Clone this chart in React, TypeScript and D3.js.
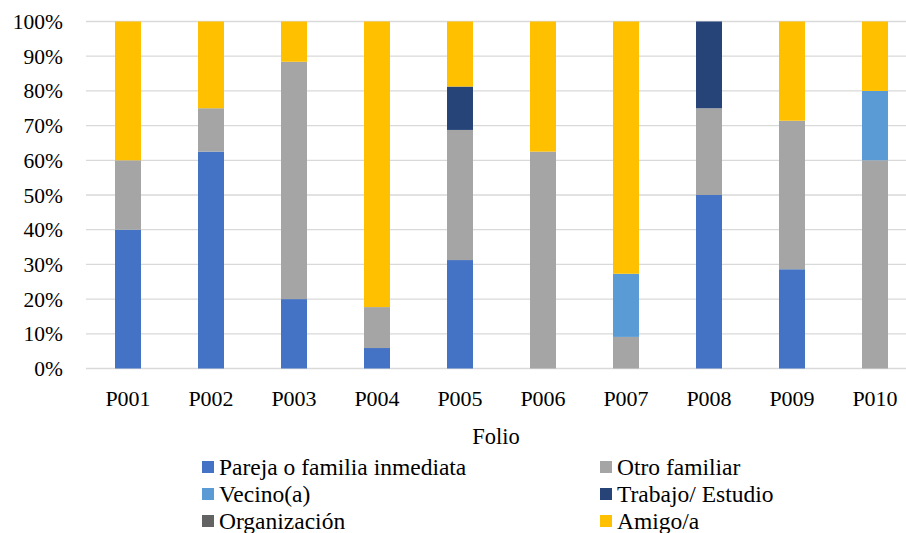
import React, { useEffect, useState } from 'react';
import * as d3 from 'd3';

const categories = ['P001', 'P002', 'P003', 'P004', 'P005', 'P006', 'P007', 'P008', 'P009', 'P010'];
const seriesNames = ['Pareja o familia inmediata', 'Otro familiar', 'Vecino(a)', 'Trabajo/ Estudio', 'Organización', 'Amigo/a'];
const pareja = [40, 62.5, 20, 5.9, 31.25, 0, 0, 50, 28.6, 0];
const otroFamiliar = [20, 12.5, 68.4, 11.8, 37.5, 62.5, 9.1, 25, 42.8, 60];
const vecino = [0, 0, 0, 0, 0, 0, 18.2, 0, 0, 20];
const trabajo = [0, 0, 0, 0, 12.5, 0, 0, 25, 0, 0];
const organizacion = [0, 0, 0, 0, 0, 0, 0, 0, 0, 0];
const amigo = [40, 25, 11.6, 82.3, 18.75, 37.5, 72.7, 0, 28.6, 20];
const yTicks = [0, 0.1, 0.2, 0.3, 0.4, 0.5, 0.6, 0.7, 0.8, 0.9, 1];
const colors = ['#4472C4', '#A5A5A5', '#5B9BD5', '#264478', '#636363', '#FFC000'];

const W = 906;
const H = 533;
const FONT = 'Liberation Serif';

export default function App() {
  const [, setTick] = useState(0);
  useEffect(() => {
    const f: any = (document as any).fonts;
    if (f && f.load) {
      f.load('22px "Liberation Serif"').then(() => setTick((t) => t + 1)).catch(() => {});
    }
  }, []);

  const seriesValues = [pareja, otroFamiliar, vecino, trabajo, organizacion, amigo];
  const rows = categories.map((c, i) => {
    const r: any = { cat: c };
    seriesNames.forEach((s, j) => (r[s] = seriesValues[j][i]));
    return r;
  });
  const stack = d3.stack<any>().keys(seriesNames).offset(d3.stackOffsetExpand);
  const layers = stack(rows);

  const x = d3.scaleBand().domain(categories).range([86.5, 916.5]).paddingInner(0.687).paddingOuter(0.3435);
  const y = d3.scaleLinear().domain([0, 1]).range([368.5, 21.5]);
  const fmt = d3.format('.0%');

  const legendCols = [202, 600];
  const legendRows = [467, 494, 521];
  const tStyle = { fontFamily: `'${FONT}'` };

  return (
    <div style={{ position: 'absolute', left: 0, top: 0 }}>
      <svg width={W} height={H}>
        <rect x={0} y={0} width={W} height={H} fill="#fff" />
        {yTicks.map((t) => (
          <g key={t}>
            <line x1={86} x2={W} y1={y(t)} y2={y(t)} stroke="#d9d9d9" strokeWidth={1.3} />
            <text x={63} y={y(t) + 7.5} textAnchor="end" fontSize={21.5} fill="#000" fontFamily={FONT} style={tStyle}>
              {fmt(t)}
            </text>
          </g>
        ))}
        {layers.map((layer, li) => (
          <g key={layer.key} fill={colors[li]}>
            {layer.map((d, i) => {
              const h = y(d[0]) - y(d[1]);
              if (h <= 0) return null;
              return (
                <rect
                  key={i}
                  x={x(categories[i])!}
                  width={x.bandwidth()}
                  y={y(d[1])}
                  height={h}
                />
              );
            })}
          </g>
        ))}
        {categories.map((c) => (
          <text key={c} x={x(c)! + x.bandwidth() / 2} y={405.5} textAnchor="middle" fontSize={22} fill="#000" fontFamily={FONT} style={tStyle}>
            {c}
          </text>
        ))}
        <text x={496} y={444} textAnchor="middle" fontSize={22.5} fill="#000" fontFamily={FONT} style={tStyle}>
          Folio
        </text>
        {seriesNames.map((s, i) => {
          const cx = legendCols[i % 2];
          const cy = legendRows[Math.floor(i / 2)];
          return (
            <g key={s}>
              <rect x={cx} y={cy - 6} width={12} height={12} fill={colors[i]} />
              <text x={cx + 17} y={cy + 7.5} fontSize={23.5} fill="#000" fontFamily={FONT} style={tStyle}>
                {s}
              </text>
            </g>
          );
        })}
      </svg>
    </div>
  );
}
